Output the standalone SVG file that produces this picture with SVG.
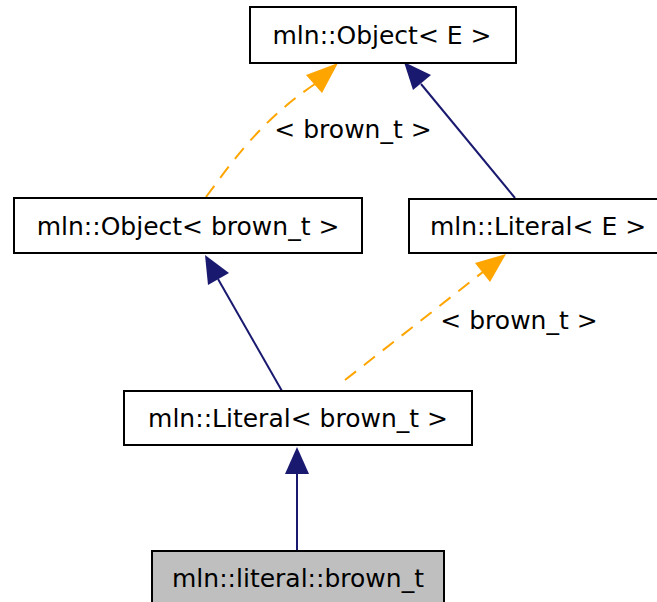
<svg xmlns="http://www.w3.org/2000/svg" width="657" height="602" viewBox="0 0 657 602">
<style>
.box{fill:#ffffff;stroke:#000000;stroke-width:2}
.leaf{fill:#bfbfbf;stroke:#000000;stroke-width:2}
text{font-family:"DejaVu Sans",sans-serif;font-size:25px;fill:#000000}
.t{text-anchor:middle}
.inh{fill:none;stroke:#191970;stroke-width:2}
.tpl{fill:none;stroke:#ffa500;stroke-width:2;stroke-dasharray:14,10}
</style>
<g id="connectors">
<path class="tpl" d="M206,197 C230,165 260,120 318,82"/>
<path d="M338,63 L306,75 L322,93 Z" fill="#ffa500"/>
<text x="353" y="138" class="t">&lt; brown_t &gt;</text>
<path class="inh" d="M515,198 L421,84"/>
<path d="M404,62 L413,90 L431,75 Z" fill="#191970"/>
<path class="inh" d="M282,391 L218,279"/>
<path d="M205,255 L208,285 L229,273 Z" fill="#191970"/>
<path class="tpl" d="M345,380 L488,268"/>
<path d="M506,254 L475,263 L490,282 Z" fill="#ffa500"/>
<text x="519" y="329" class="t">&lt; brown_t &gt;</text>
<path class="inh" d="M297,550 L297,474"/>
<path d="M297,447 L285,474 L309,474 Z" fill="#191970"/>
</g>
<g id="node-object-e">
<rect class="box" x="250" y="7" width="266" height="56"/>
<text x="382" y="44" class="t">mln::Object&lt; E &gt;</text>
</g>
<g id="node-object-brown">
<rect class="box" x="14" y="198" width="348" height="55"/>
<text x="188" y="235" class="t">mln::Object&lt; brown_t &gt;</text>
</g>
<g id="node-literal-e">
<rect class="box" x="409" y="199" width="259" height="54"/>
<text x="538" y="235" class="t">mln::Literal&lt; E &gt;</text>
</g>
<g id="node-literal-brown">
<rect class="box" x="124" y="391" width="348" height="54"/>
<text x="298" y="427" class="t">mln::Literal&lt; brown_t &gt;</text>
</g>
<g id="node-brown">
<rect class="leaf" x="152" y="551" width="292" height="60"/>
<text x="298" y="587" class="t">mln::literal::brown_t</text>
</g>
</svg>
